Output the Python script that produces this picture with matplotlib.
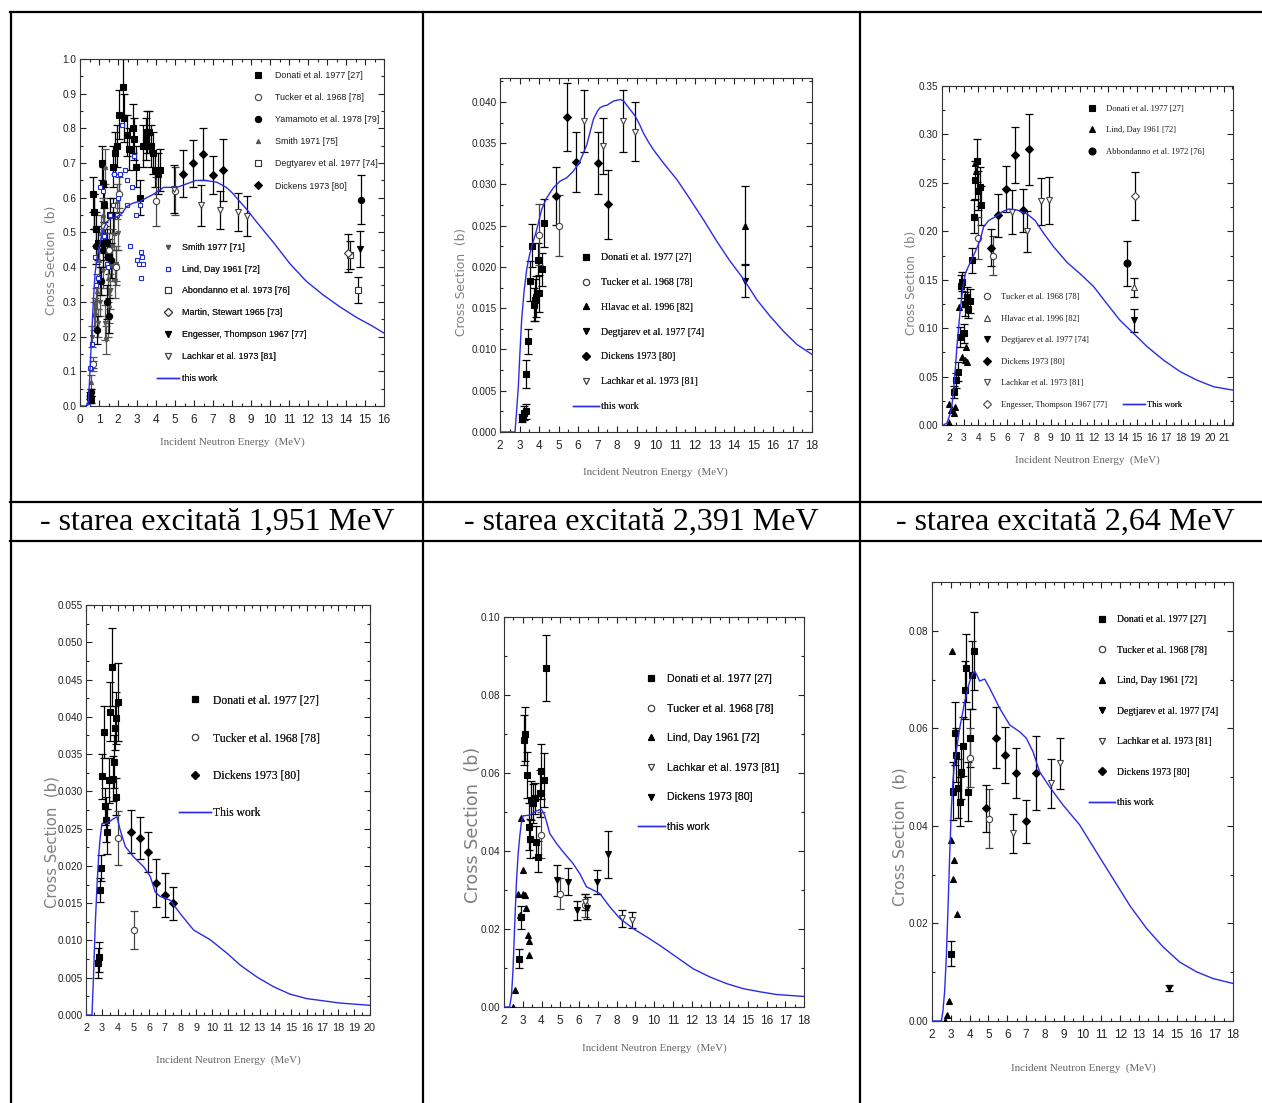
import matplotlib
matplotlib.use('Agg')
import matplotlib.pyplot as plt
from matplotlib.lines import Line2D
from matplotlib.ticker import MultipleLocator, FormatStrFormatter

W, H = 1262, 1103
plt.rcParams['font.family'] = ['Liberation Sans Narrow', 'Liberation Sans', 'DejaVu Sans']

BLUE = '#2b2be6'

## ---- data (E in MeV, sigma in b, error) ----

# panel 1
p1_curve_e = [0, 0.4, 0.45, 0.5, 0.55, 0.61, 0.7, 0.79, 0.9, 1.05, 1.2, 1.4, 1.6, 1.93, 2.2, 2.46, 2.8, 3.16,
              3.5, 3.86, 4.4, 5.1, 5.6, 6.1, 6.6, 7.2, 7.7, 8.0, 8.4, 8.8, 9.3, 10.2, 11.05, 11.9, 12.8, 13.7,
              14.56, 15.4, 16]
p1_curve_s = [0, 0, 0.02, 0.07, 0.13, 0.2, 0.3, 0.38, 0.43, 0.47, 0.505, 0.53, 0.54, 0.545, 0.555, 0.575,
              0.585, 0.59, 0.6, 0.61, 0.63, 0.63, 0.64, 0.65, 0.65, 0.645, 0.63, 0.615, 0.59, 0.565, 0.53, 0.47,
              0.41, 0.36, 0.32, 0.285, 0.255, 0.23, 0.21]
p1_donati = [(0.55, 0.03, 0.01), (0.6, 0.02, 0.01), (0.7, 0.61, 0.05), (0.75, 0.56, 0.05), (0.85, 0.51, 0.05),
             (0.95, 0.47, 0.05), (1.05, 0.36, 0.04), (1.15, 0.70, 0.05), (1.2, 0.64, 0.05), (1.25, 0.58, 0.05),
             (1.3, 0.47, 0.05), (1.4, 0.47, 0.04), (1.5, 0.43, 0.05), (1.6, 0.55, 0.05), (1.75, 0.69, 0.06),
             (1.85, 0.73, 0.06), (1.95, 0.75, 0.06), (2.05, 0.84, 0.07), (2.25, 0.92, 0.08), (2.3, 0.83, 0.07),
             (2.45, 0.78, 0.06), (2.6, 0.74, 0.06), (2.8, 0.80, 0.07), (2.85, 0.77, 0.06), (2.95, 0.69, 0.06),
             (3.15, 0.60, 0.05), (3.3, 0.75, 0.06), (3.45, 0.77, 0.06), (3.55, 0.79, 0.06), (3.65, 0.79, 0.06),
             (3.75, 0.75, 0.06), (3.85, 0.73, 0.06), (3.95, 0.68, 0.05), (4.1, 0.67, 0.06), (4.2, 0.68, 0.06)]
p1_tucker = [(0.7, 0.12, 0.01), (1.25, 0.52, 0.05), (1.55, 0.45, 0.05), (1.9, 0.40, 0.05), (2.05, 0.61, 0.05),
             (4.0, 0.59, 0.07), (5.0, 0.62, 0.07)]
p1_yamamoto = [(0.52, 0.02, 0.01), (0.58, 0.04, 0.01), (0.72, 0.56, 0.05), (0.82, 0.46, 0.05), (0.92, 0.22, 0.04),
               (1.12, 0.36, 0.04), (1.22, 0.45, 0.05), (1.42, 0.30, 0.05), (1.52, 0.26, 0.05), (1.62, 0.42, 0.05),
               (1.72, 0.55, 0.05), (14.8, 0.595, 0.07)]
p1_smith71 = [(0.6, 0.07, 0.02), (0.7, 0.12, 0.02), (0.8, 0.27, 0.04), (0.9, 0.33, 0.05), (1.0, 0.42, 0.05),
              (1.1, 0.50, 0.05), (1.2, 0.55, 0.05), (1.3, 0.69, 0.05), (1.45, 0.37, 0.05), (1.55, 0.29, 0.05),
              (1.7, 0.41, 0.05), (1.8, 0.50, 0.05), (1.95, 0.59, 0.05), (2.05, 0.62, 0.05)]
p1_degtyarev = [(14.2, 0.435, 0.04)]
p1_dickens = [(5.44, 0.67, 0.068), (5.93, 0.70, 0.068), (6.46, 0.727, 0.075), (6.98, 0.666, 0.055),
              (7.5, 0.68, 0.09)]
p1_smith77 = [(0.65, 0.20, 0.03), (0.75, 0.26, 0.04), (0.85, 0.30, 0.04), (0.95, 0.24, 0.04), (1.05, 0.30, 0.04),
              (1.2, 0.39, 0.05), (1.3, 0.24, 0.05), (1.38, 0.19, 0.04), (1.48, 0.25, 0.05), (1.58, 0.33, 0.05),
              (1.68, 0.46, 0.05), (1.82, 0.36, 0.05), (1.92, 0.41, 0.05), (2.02, 0.50, 0.05)]
p1_lind = [(0.44, 0.0), (0.53, 0.11), (0.61, 0.18), (0.79, 0.43), (0.84, 0.35), (0.96, 0.37), (1.05, 0.63),
           (1.19, 0.62), (1.28, 0.49), (1.4, 0.41), (1.49, 0.40), (1.58, 0.55), (1.72, 0.58), (1.79, 0.67),
           (1.93, 0.55), (2.02, 0.60), (2.10, 0.67), (2.19, 0.81), (2.37, 0.68), (2.46, 0.58), (2.49, 0.65),
           (2.63, 0.46), (2.72, 0.63), (2.84, 0.72), (2.93, 0.55), (3.02, 0.42), (3.12, 0.41), (3.16, 0.58),
           (3.19, 0.445), (3.23, 0.37), (3.25, 0.43), (3.3, 0.41)]
p1_abondanno = [(14.65, 0.335, 0.037)]
p1_martin = [(14.1, 0.44, 0.055)]
p1_engesser = [(14.74, 0.453, 0.052)]
p1_lachkar = [(4.96, 0.625, 0.07), (6.35, 0.578, 0.058), (7.37, 0.565, 0.055), (8.33, 0.559, 0.056),
              (8.8, 0.548, 0.057)]

# panel 2
p2_curve_e = [2, 2.77, 2.85, 2.94, 3.02, 3.11, 3.24, 3.37, 3.5, 3.63, 3.88, 4.14, 4.4, 4.74, 5.08, 5.42, 5.76,
              6.1, 6.45, 6.79, 7.0, 7.13, 7.3, 7.48, 7.82, 8.16, 8.35, 8.5, 8.7, 8.93, 9.15, 9.36, 9.6, 9.87,
              10.38, 11.07, 11.75, 12.44, 13.12, 13.8, 14.5, 15.18, 15.86, 16.54, 17.23, 18]
p2_curve_s = [0, 0, 0.0025, 0.0055, 0.0095, 0.0136, 0.0172, 0.0197, 0.0213, 0.0225, 0.0245, 0.027, 0.0284,
              0.0296, 0.0304, 0.0308, 0.0316, 0.0328, 0.0348, 0.0379, 0.0389, 0.0393, 0.0395, 0.0396, 0.0401,
              0.0403, 0.0401, 0.0396, 0.039, 0.0383, 0.0373, 0.0362, 0.0352, 0.0342, 0.0326, 0.0306, 0.0282,
              0.0257, 0.0231, 0.0207, 0.0185, 0.016, 0.014, 0.0122, 0.0106, 0.0094]
p2_donati = [(3.11, 0.0017, 0.0005), (3.23, 0.0023, 0.0008), (3.33, 0.0025, 0.0009), (3.33, 0.0070, 0.0017),
             (3.44, 0.0110, 0.0015), (3.54, 0.0183, 0.0024), (3.63, 0.0226, 0.0026), (3.75, 0.0154, 0.0020),
             (3.80, 0.0160, 0.0025), (3.85, 0.0164, 0.0025), (3.93, 0.0209, 0.0020), (4.02, 0.0168, 0.0022),
             (4.14, 0.0197, 0.0020), (4.28, 0.0253, 0.0029)]
p2_tucker = [(4.02, 0.0239, 0.0037), (5.03, 0.0250, 0.0037)]
p2_hlavac = [(14.58, 0.0250, 0.0048)]
p2_degtjarev = [(14.58, 0.0183, 0.0020)]
p2_dickens = [(4.87, 0.0286, 0.0035), (5.42, 0.0382, 0.0041), (5.90, 0.0327, 0.0036), (7.01, 0.0326, 0.0037),
              (7.53, 0.0276, 0.0042)]
p2_lachkar = [(6.33, 0.0377, 0.0038), (7.30, 0.0347, 0.0034), (8.33, 0.0377, 0.0038), (8.90, 0.0364, 0.0036)]

# panel 3
p3_curve_e = [1.5, 1.6, 1.84, 2.07, 2.2, 2.3, 2.42, 2.53, 2.65, 2.76, 2.93, 3.1, 3.45, 3.8, 4.14, 4.37, 4.72,
              5.18, 5.64, 6.1, 6.67, 7.37, 7.94, 8.52, 9.21, 10.13, 11.05, 11.97, 12.9, 13.8, 14.74, 15.66, 16.8,
              17.96, 19.1, 20.26, 21.6]
p3_curve_s = [0, 0, 0.002, 0.012, 0.022, 0.036, 0.058, 0.081, 0.101, 0.119, 0.14, 0.156, 0.168, 0.179, 0.191,
              0.2045, 0.211, 0.215, 0.22, 0.223, 0.222, 0.218, 0.211, 0.198, 0.184, 0.168, 0.156, 0.143, 0.125,
              0.108, 0.0945, 0.081, 0.067, 0.055, 0.0464, 0.0395, 0.036]
p3_donati = [(2.35, 0.034, 0.006), (2.45, 0.046, 0.008), (2.58, 0.055, 0.01), (2.71, 0.091, 0.01),
             (2.8, 0.143, 0.012), (2.9, 0.148, 0.01), (3.0, 0.0945, 0.01), (3.1, 0.125, 0.012), (3.2, 0.132, 0.01),
             (3.3, 0.12, 0.01), (3.4, 0.128, 0.012), (3.57, 0.17, 0.013), (3.68, 0.215, 0.017), (3.8, 0.253, 0.02),
             (3.91, 0.273, 0.022), (3.98, 0.242, 0.02), (4.1, 0.246, 0.02), (4.19, 0.227, 0.02)]
p3_lind = [(1.95, 0.002), (2.0, 0.022), (2.15, 0.015), (2.3, 0.012), (2.4, 0.019), (2.65, 0.122), (2.9, 0.07),
           (3.1, 0.067), (3.15, 0.081), (3.25, 0.065), (3.75, 0.27), (3.85, 0.262)]
p3_abbondanno = [(14.28, 0.167, 0.023)]
p3_tucker = [(3.98, 0.193, 0.022), (5.0, 0.175, 0.02)]
p3_hlavac = [(14.74, 0.142, 0.01)]
p3_degtjarev = [(14.74, 0.108, 0.012)]
p3_dickens = [(4.88, 0.183, 0.019), (5.4, 0.2166, 0.022), (5.94, 0.2434, 0.024), (6.51, 0.279, 0.029),
              (7.07, 0.2217, 0.022), (7.53, 0.2846, 0.037)]
p3_lachkar = [(6.33, 0.22, 0.023), (7.37, 0.2, 0.021), (8.36, 0.231, 0.024), (8.86, 0.232, 0.024)]
p3_engesser = [(14.8, 0.2365, 0.025)]

# panel 4
p4_curve_e = [2, 2.38, 2.48, 2.59, 2.7, 2.8, 2.9, 3.01, 3.33, 3.65, 3.96, 4.17, 4.49, 5.02, 5.65, 6.07, 6.39,
              6.7, 7.34, 7.97, 8.82, 9.87, 10.93, 11.77, 12.83, 13.88, 14.93, 15.99, 17.05, 18.1, 20]
p4_curve_s = [0, 0, 0.0055, 0.0123, 0.0175, 0.0212, 0.0238, 0.0257, 0.0257, 0.0262, 0.0266, 0.0248, 0.0226,
              0.0212, 0.0199, 0.0186, 0.0165, 0.0159, 0.0154, 0.0136, 0.0114, 0.0101, 0.0083, 0.0067, 0.0051,
              0.0038, 0.0028, 0.0022, 0.0019, 0.0016, 0.0013]
p4_donati = [(2.74, 0.0070, 0.0020), (2.84, 0.0078, 0.0020), (2.91, 0.0168, 0.0016), (2.95, 0.0197, 0.0017),
             (3.01, 0.0320, 0.0030), (3.12, 0.0380, 0.0035), (3.2, 0.0280, 0.0025), (3.26, 0.0262, 0.0030),
             (3.33, 0.0246, 0.0030), (3.43, 0.0315, 0.0030), (3.54, 0.0407, 0.0040), (3.65, 0.0467, 0.0052),
             (3.71, 0.0317, 0.0030), (3.8, 0.0340, 0.0035), (3.86, 0.0385, 0.0030), (3.92, 0.0398, 0.0035),
             (4.0, 0.0420, 0.0052), (3.92, 0.0293, 0.0025)]
p4_tucker = [(4.03, 0.0237, 0.0036), (5.02, 0.0114, 0.0025)]
p4_dickens = [(4.85, 0.0246, 0.0029), (5.4, 0.0237, 0.0028), (5.9, 0.0219, 0.0027), (6.45, 0.0177, 0.0032),
              (7.0, 0.0161, 0.0030), (7.5, 0.0150, 0.0022)]

# panel 5
p5_curve_e = [2, 2.3, 2.4, 2.48, 2.57, 2.66, 2.75, 2.84, 2.92, 3.01, 3.37, 3.73, 3.99, 4.17, 4.44, 4.79, 5.15,
              5.68, 6.04, 6.4, 6.75, 7.11, 7.64, 8.18, 8.89, 9.6, 10.31, 11.2, 12.09, 12.98, 13.87, 14.76, 15.65,
              16.54, 18]
p5_curve_s = [0, 0, 0.003, 0.0094, 0.021, 0.0317, 0.039, 0.0437, 0.047, 0.049, 0.0492, 0.0503, 0.0507, 0.0492,
              0.0445, 0.042, 0.0398, 0.0368, 0.0342, 0.0308, 0.030, 0.0291, 0.0257, 0.0227, 0.0201, 0.018,
              0.0158, 0.0128, 0.0098, 0.0077, 0.006, 0.0047, 0.0039, 0.0032, 0.0027]
p5_donati = [(2.8, 0.0124, 0.0025), (2.93, 0.023, 0.003), (3.05, 0.0685, 0.0065), (3.14, 0.070, 0.007),
             (3.23, 0.0595, 0.006), (3.32, 0.0462, 0.006), (3.37, 0.0432, 0.005), (3.46, 0.053, 0.005),
             (3.55, 0.0522, 0.005), (3.64, 0.0535, 0.004), (3.73, 0.0424, 0.004), (3.82, 0.0385, 0.004),
             (3.9, 0.0548, 0.006), (3.99, 0.0604, 0.007), (4.12, 0.0582, 0.007), (4.22, 0.0869, 0.0085)]
p5_tucker = [(3.99, 0.0441, 0.006), (4.97, 0.0291, 0.004), (6.3, 0.0261, 0.003)]
p5_lind = [(2.48, 0.0), (2.57, 0.0043), (2.75, 0.029), (2.84, 0.0235), (2.93, 0.0484), (3.0, 0.0351),
           (3.03, 0.029), (3.1, 0.0287), (3.19, 0.0253), (3.28, 0.0184), (3.33, 0.017), (3.31, 0.0133)]
p5_lachkar = [(6.3, 0.027, 0.002), (8.3, 0.0227, 0.0023), (8.8, 0.0223, 0.002)]
p5_dickens = [(4.85, 0.0325, 0.004), (5.42, 0.0321, 0.0035), (5.9, 0.0248, 0.0025), (6.43, 0.0253, 0.0028),
              (6.98, 0.0321, 0.003), (7.52, 0.0392, 0.006)]

# panel 6
p6_curve_e = [2, 2.5, 2.58, 2.67, 2.76, 2.85, 2.94, 3.03, 3.12, 3.2, 3.47, 3.74, 4.0, 4.15, 4.27, 4.4, 4.53,
              4.8, 5.07, 5.6, 6.13, 6.66, 7.01, 7.37, 7.72, 8.25, 8.96, 9.85, 10.73, 11.62, 12.51, 13.4, 14.28,
              15.16, 16.05, 16.94, 18]
p6_curve_s = [0, 0, 0.002, 0.006, 0.013, 0.023, 0.034, 0.0436, 0.0495, 0.0532, 0.060, 0.0655, 0.0696, 0.0712,
              0.0717, 0.0708, 0.0697, 0.0701, 0.0682, 0.0641, 0.0607, 0.0593, 0.058, 0.0552, 0.0511, 0.048,
              0.0443, 0.0402, 0.0347, 0.0292, 0.0237, 0.019, 0.0152, 0.0121, 0.0101, 0.0087, 0.0077]
p6_donati = [(2.99, 0.0138, 0.0025), (3.12, 0.0472, 0.006), (3.2, 0.059, 0.0065), (3.29, 0.0545, 0.0055),
             (3.38, 0.0477, 0.006), (3.47, 0.045, 0.005), (3.56, 0.0511, 0.0055), (3.65, 0.0563, 0.006),
             (3.74, 0.0679, 0.006), (3.82, 0.0723, 0.007), (3.91, 0.047, 0.006), (4.04, 0.058, 0.006),
             (4.14, 0.071, 0.007), (4.23, 0.0758, 0.008)]
p6_tucker = [(4.0, 0.054, 0.006), (5.01, 0.0415, 0.006)]
p6_lind = [(2.67, 0.0), (2.78, 0.0012), (2.9, 0.0042), (2.99, 0.0371), (3.08, 0.0759), (3.12, 0.0292),
           (3.17, 0.033), (3.35, 0.022), (3.1, 0.047)]
p6_degtjarev = [(14.6, 0.0068, 0.0006)]
p6_lachkar = [(6.31, 0.0385, 0.004), (8.3, 0.0487, 0.005), (8.82, 0.0528, 0.0052)]
p6_dickens = [(4.85, 0.0436, 0.0048), (5.42, 0.0581, 0.0062), (5.9, 0.0545, 0.0057), (6.45, 0.0509, 0.0051),
              (6.98, 0.0409, 0.0045), (7.51, 0.0509, 0.0076)]

captions = ['- starea excitată 1,951 MeV', '- starea excitată 2,391 MeV', '- starea excitată 2,64 MeV']

## ---- figure ----

fig = plt.figure(figsize=(W / 100, H / 100), dpi=100)
fig.patch.set_facecolor('white')


def fx(x):
    return x / W


def fy(y):
    return 1 - y / H


def axes_px(l, t, r, b):
    return fig.add_axes([fx(l), fy(b), (r - l) / W, (b - t) / H])


def draw(ax, data, marker, ms=5, face='k', edge='k', ecol='k'):
    e = [d[0] for d in data]
    s = [d[1] for d in data]
    if len(data[0]) > 2:
        err = [d[2] for d in data]
        ax.errorbar(e, s, yerr=err, fmt='none', ecolor=ecol, elinewidth=0.9, capsize=3,
                    capthick=0.9, zorder=2)
    h, = ax.plot(e, s, ls='none', marker=marker, ms=ms, mfc=face, mec=edge, mew=0.8, zorder=3)
    return h


def curve(ax, e, s):
    h, = ax.plot(e, s, color=BLUE, lw=1.0, zorder=4, solid_joinstyle='round')
    return h


def style(ax, xlim, ylim, xmaj, ymaj, yfmt, xsize=8.5):
    ax.set_xlim(*xlim)
    ax.set_ylim(*ylim)
    ax.xaxis.set_major_locator(MultipleLocator(xmaj))
    ax.xaxis.set_minor_locator(MultipleLocator(xmaj / 2))
    ax.yaxis.set_major_locator(MultipleLocator(ymaj))
    ax.yaxis.set_minor_locator(MultipleLocator(ymaj / 2))
    ax.yaxis.set_major_formatter(FormatStrFormatter(yfmt))
    ax.tick_params(which='both', direction='in', top=True, right=True, width=0.8, colors='#222')
    ax.tick_params(axis='y', labelsize=7.2, pad=2.5)
    ax.tick_params(axis='x', labelsize=xsize, pad=5.5)
    ax.tick_params(which='major', length=4.5)
    ax.tick_params(which='minor', length=2.5)
    for sp in ax.spines.values():
        sp.set_linewidth(0.8)
        sp.set_color('#333')


def labels(ax, xc, xy, yx, yc, ysize):
    fig.text(fx(xc), fy(xy), 'Incident Neutron Energy  (MeV)', ha='center', va='center',
             family='Liberation Serif', size=7.9, color='#666')
    fig.text(fx(yx), fy(yc), 'Cross Section  (b)', ha='center', va='center', rotation=90,
             family='DejaVu Sans', size=ysize, color='#808080')


def legend(ax, handles, names, fs, family, mx, tx, y0, step, hl=10):
    f = fs * 100 / 72
    ax0 = mx - hl / 2
    h = 0.95 * f
    lg = ax.legend(handles, names, loc='upper left', bbox_to_anchor=(fx(ax0), fy(y0 - h / 2)),
                   bbox_transform=fig.transFigure, frameon=False, borderpad=0, borderaxespad=0,
                   handlelength=hl / f, handletextpad=(tx - ax0 - hl) / f, labelspacing=(step - h) / f,
                   prop=dict(family=family, size=fs, weight='normal'), numpoints=1)
    for t in lg.get_texts():
        t.set_color('#1a1a1a')
    ax.add_artist(lg)
    return lg


SANS = ['Liberation Sans Narrow', 'Liberation Sans']
SERIF = ['Liberation Serif']
W_ = 'white'

# ---------- panel 1 ----------
ax = axes_px(80, 59, 384, 406)
h_don = draw(ax, p1_donati, 's', 5)
h_smi71 = draw(ax, p1_smith71, '^', 3, '#555', '#555', '#555')
h_smi77 = draw(ax, p1_smith77, 'v', 3, '#555', '#555', '#555')
h_yam = draw(ax, p1_yamamoto, 'o', 4.5)
h_tuc = draw(ax, p1_tucker, 'o', 4.5, W_, '#444', '#444')
h_lind = draw(ax, p1_lind, 's', 3.2, W_, '#1f2fd0')
h_dic = draw(ax, p1_dickens, 'D', 4.5)
h_lac = draw(ax, p1_lachkar, 'v', 5, W_, '#444')
h_deg = draw(ax, p1_degtyarev, 's', 5, W_, '#333')
h_mar = draw(ax, p1_martin, 'D', 4.5, W_, '#333')
h_abo = draw(ax, p1_abondanno, 's', 5, W_, '#333')
h_eng = draw(ax, p1_engesser, 'v', 5)
h_cur = curve(ax, p1_curve_e, p1_curve_s)
style(ax, (0, 16), (0, 1.0), 1, 0.1, '%.1f')
legend(ax, [h_don, h_tuc, h_yam, h_smi71, h_deg, h_dic],
       ['Donati et al. 1977 [27]', 'Tucker et al. 1968 [78]', 'Yamamoto et al. 1978 [79]', 'Smith 1971 [75]',
        'Degtyarev et al. 1977 [74]', 'Dickens 1973 [80]'], 6.4, SANS, 258, 275, 75, 21.6)
legend(ax, [h_smi77, h_lind, h_abo, h_mar, h_eng, h_lac, h_cur],
       ['Smith 1977 [71]', 'Lind, Day 1961 [72]', 'Abondanno et al. 1973 [76]', 'Martin, Stewart 1965 [73]',
        'Engesser, Thompson 1967 [77]', 'Lachkar et al. 1973 [81]', 'this work'],
       6.4, SANS, 168, 182, 247, 21.3, hl=22)
labels(ax, 232, 442, 52, 260, 8.9)

# ---------- panel 2 ----------
ax = axes_px(500, 78, 812, 432)
h_don = draw(ax, p2_donati, 's', 5)
h_tuc = draw(ax, p2_tucker, 'o', 4.5, W_, '#444', '#444')
h_hla = draw(ax, p2_hlavac, '^', 5)
h_deg = draw(ax, p2_degtjarev, 'v', 5)
h_dic = draw(ax, p2_dickens, 'D', 4.5)
h_lac = draw(ax, p2_lachkar, 'v', 5, W_, '#444')
h_cur = curve(ax, p2_curve_e, p2_curve_s)
style(ax, (2, 18), (0, 0.0429), 1, 0.005, '%.3f')
legend(ax, [h_don, h_tuc, h_hla, h_deg, h_dic, h_lac, h_cur],
       ['Donati et al. 1977 [27]', 'Tucker et al. 1968 [78]', 'Hlavac et al. 1996 [82]',
        'Degtjarev et al. 1977 [74]', 'Dickens 1973 [80]', 'Lachkar et al. 1973 [81]', 'this work'],
       7.2, SERIF, 586, 601, 258, 25.3, hl=26)
labels(ax, 655, 472, 462, 282, 8.8)

# ---------- panel 3 ----------
ax = axes_px(942, 86, 1233, 425)
h_don = draw(ax, p3_donati, 's', 5)
h_lin = draw(ax, p3_lind, '^', 4.5)
h_abb = draw(ax, p3_abbondanno, 'o', 5)
h_tuc = draw(ax, p3_tucker, 'o', 4.5, W_, '#444', '#444')
h_hla = draw(ax, p3_hlavac, '^', 5, W_, '#444')
h_deg = draw(ax, p3_degtjarev, 'v', 5)
h_dic = draw(ax, p3_dickens, 'D', 4)
h_lac = draw(ax, p3_lachkar, 'v', 5, W_, '#444')
h_eng = draw(ax, p3_engesser, 'D', 4.5, W_, '#444')
h_cur = curve(ax, p3_curve_e, p3_curve_s)
style(ax, (1.5, 21.6), (0, 0.35), 1, 0.05, '%.2f', xsize=7.4)
legend(ax, [h_don, h_lin, h_abb],
       ['Donati et al. 1977 [27]', 'Lind, Day 1961 [72]', 'Abbondanno et al. 1972 [76]'],
       6.1, SERIF, 1092, 1106, 109, 21.5)
legend(ax, [h_tuc, h_hla, h_deg, h_dic, h_lac, h_eng],
       ['Tucker et al. 1968 [78]', 'Hlavac et al. 1996 [82]', 'Degtjarev et al. 1977 [74]',
        'Dickens 1973 [80]', 'Lachkar et al. 1973 [81]', 'Engesser, Thompson 1967 [77]'],
       6.1, SERIF, 987, 1001, 297, 21.6)
legend(ax, [h_cur], ['This work'], 6.1, SERIF, 1134, 1147, 405, 21.5, hl=22)
labels(ax, 1087, 460, 911, 283, 8.5)

# ---------- panel 4 ----------
ax = axes_px(86, 605, 370, 1015)
h_don = draw(ax, p4_donati, 's', 5)
h_tuc = draw(ax, p4_tucker, 'o', 4.5, W_, '#444', '#444')
h_dic = draw(ax, p4_dickens, 'D', 4.5)
h_cur = curve(ax, p4_curve_e, p4_curve_s)
style(ax, (2, 20), (0, 0.055), 1, 0.005, '%.3f', xsize=7.8)
legend(ax, [h_don, h_tuc, h_dic, h_cur],
       ['Donati et al. 1977 [27]', 'Tucker et al. 1968 [78]', 'Dickens 1973 [80]', 'This work'],
       8.4, SERIF, 195, 213, 700, 36.7, hl=32)
labels(ax, 228, 1060, 52, 842, 10.7)

# ---------- panel 5 ----------
ax = axes_px(504, 617, 804, 1007)
h_don = draw(ax, p5_donati, 's', 5)
h_tuc = draw(ax, p5_tucker, 'o', 4.5, W_, '#444', '#444')
h_lin = draw(ax, p5_lind, '^', 4.5)
h_lac = draw(ax, p5_lachkar, 'v', 5, W_, '#444')
h_dic = draw(ax, p5_dickens, 'v', 5)
h_cur = curve(ax, p5_curve_e, p5_curve_s)
style(ax, (2, 18), (0, 0.10), 1, 0.02, '%.2f')
legend(ax, [h_don, h_tuc, h_lin, h_lac, h_dic, h_cur],
       ['Donati et al. 1977 [27]', 'Tucker et al. 1968 [78]', 'Lind, Day 1961 [72]',
        'Lachkar et al. 1973 [81]', 'Dickens 1973 [80]', 'this work'],
       7.7, SANS, 651, 667, 679, 29.8, hl=27)
labels(ax, 654, 1048, 473, 825, 12.7)

# ---------- panel 6 ----------
ax = axes_px(932, 582, 1233, 1021)
h_don = draw(ax, p6_donati, 's', 5)
h_tuc = draw(ax, p6_tucker, 'o', 4.5, W_, '#444', '#444')
h_lin = draw(ax, p6_lind, '^', 4.5)
h_deg = draw(ax, p6_degtjarev, 'v', 5)
h_lac = draw(ax, p6_lachkar, 'v', 5, W_, '#444')
h_dic = draw(ax, p6_dickens, 'D', 4.5)
h_cur = curve(ax, p6_curve_e, p6_curve_s)
style(ax, (2, 18), (0, 0.09), 1, 0.02, '%.2f')
legend(ax, [h_don, h_tuc, h_lin, h_deg, h_lac, h_dic, h_cur],
       ['Donati et al. 1977 [27]', 'Tucker et al. 1968 [78]', 'Lind, Day 1961 [72]',
        'Degtjarev et al. 1977 [74]', 'Lachkar et al. 1973 [81]', 'Dickens 1973 [80]', 'this work'],
       7.0, SERIF, 1102, 1117, 620, 30.7, hl=26)
labels(ax, 1083, 1068, 900, 837, 11.3)

## ---- table frame and captions ----
for (x0, y0, x1, y1) in [(10, 12, W, 12), (11, 12, 11, H), (423, 12, 423, H), (860, 12, 860, H),
                         (10, 502, W, 502), (10, 541, W, 541)]:
    fig.add_artist(Line2D([fx(x0), fx(x1)], [fy(y0), fy(y1)], transform=fig.transFigure,
                          color='black', lw=1.6))

for xc, txt in zip([217, 641, 1065], captions):
    fig.text(fx(xc), fy(522), txt, ha='center', va='center', family='Liberation Serif', size=23)

fig.savefig('out.png', dpi=100, facecolor='white')
